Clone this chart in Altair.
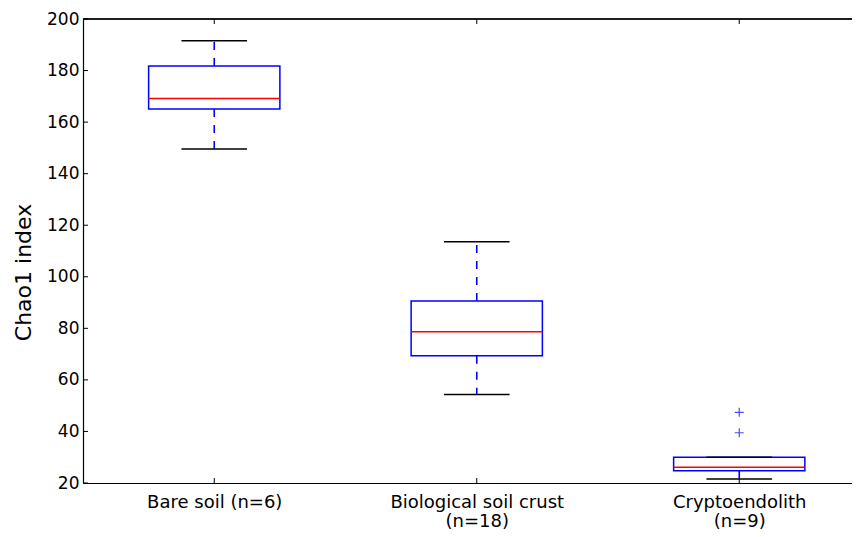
import json
import altair as alt
import pandas as pd

# ---- data ----
group_lines = [["Bare soil (n=6)"], ["Biological soil crust", "(n=18)"], ["Cryptoendolith", "(n=9)"]]
positions = [1, 2, 3]
whisker_low = [149.6, 54.3, 21.6]
q1 = [165.1, 69.4, 24.8]
median = [169.2, 78.7, 26.1]
q3 = [181.8, 90.6, 30.0]
whisker_high = [191.6, 113.6, 30.0]
outlier_pos = [3, 3]
outlier_values = [39.5, 47.4]
y_ticks = [20, 40, 60, 80, 100, 120, 140, 160, 180, 200]
y_title = "Chao1 index"

W, H = 769, 464
PX_PER_UNIT = 262.5
x_max = 0.5 + W / PX_PER_UNIT

xs = alt.Scale(domain=[0.5, x_max], nice=False, zero=False)
ys = alt.Scale(domain=[20, 200], nice=False, zero=False)

box_df = pd.DataFrame({
    "pos": positions,
    "wlo": whisker_low,
    "q1": q1,
    "med": median,
    "q3": q3,
    "whi": whisker_high,
})
out_df = pd.DataFrame({"pos": outlier_pos, "v": outlier_values})
ytick_df = pd.DataFrame({"v": y_ticks})

label_expr = json.dumps(group_lines) + "[datum.value - 1]"

base = alt.Chart(box_df).transform_calculate(
    lo="datum.pos - 0.25", hi="datum.pos + 0.25",
    clo="datum.pos - 0.125", chi="datum.pos + 0.125",
)

BLUE = "#0000ff"
DASH = [8, 8]


def X(field):
    return alt.X(field, scale=xs, title=None)


def Y(field):
    return alt.Y(field, scale=ys, title=y_title)


boxes = base.mark_rect(fillOpacity=0, stroke=BLUE, strokeWidth=1.5).encode(
    x=alt.X("lo:Q", scale=xs, title=None,
            axis=alt.Axis(values=positions, labelExpr=label_expr, tickSize=0,
                          labelPadding=10, labelLineHeight=19, labelBaseline="top",
                          grid=False, labelFlush=False, labelOverlap=False)),
    x2="hi:Q",
    y=alt.Y("q1:Q", scale=ys, title=y_title,
            axis=alt.Axis(values=y_ticks, tickSize=0, labelPadding=4, grid=False,
                          titleX=-53, titleY=253, titleAngle=270, titleAlign="center",
                          titleBaseline="alphabetic", titleFontSize=22,
                          titleFontWeight="normal", labelFlush=False)),
    y2="q3:Q",
)

whisk_up = base.mark_rule(color=BLUE, strokeDash=DASH, strokeWidth=1.6).encode(
    x=X("pos:Q"), y=Y("q3:Q"), y2="whi:Q",
)
whisk_dn = base.mark_rule(color=BLUE, strokeDash=DASH, strokeWidth=1.6).encode(
    x=X("pos:Q"), y=Y("q1:Q"), y2="wlo:Q",
)
cap_up = base.mark_rule(color="black", strokeWidth=1.5).encode(
    x=X("clo:Q"), x2="chi:Q", y=Y("whi:Q"),
)
cap_dn = base.mark_rule(color="black", strokeWidth=1.5).encode(
    x=X("clo:Q"), x2="chi:Q", y=Y("wlo:Q"),
)
med = base.mark_rule(color="#ff0000", strokeWidth=1.5).encode(
    x=X("lo:Q"), x2="hi:Q", y=Y("med:Q"),
)
outliers = alt.Chart(out_df).mark_point(
    shape="M-1,0H1M0,-1V1", size=81, filled=False, stroke=BLUE, strokeWidth=1.2
).encode(
    x=X("pos:Q"), y=Y("v:Q"),
)

# frame decorations: top border and inward ticks
top_border = alt.Chart(box_df).mark_rule(color="black", strokeWidth=1.2).encode(
    x=alt.datum(0.5, scale=xs), x2=alt.datum(x_max),
    y=alt.datum(200, scale=ys),
)
left_ticks = alt.Chart(ytick_df).mark_rule(color="black", strokeWidth=1).encode(
    y=Y("v:Q"), x=alt.value(0), x2=alt.value(5),
)
top_ticks = base.mark_rule(color="black", strokeWidth=1).encode(
    x=X("pos:Q"), y=alt.value(0), y2=alt.value(5),
)
bottom_ticks = base.mark_rule(color="black", strokeWidth=1).encode(
    x=X("pos:Q"), y=alt.value(H), y2=alt.value(H - 5),
)

chart = alt.layer(
    boxes, whisk_up, whisk_dn, cap_up, cap_dn, med, outliers,
    top_border, left_ticks, top_ticks, bottom_ticks,
).properties(
    width=W, height=H,
    autosize=alt.AutoSizeParams(type="none"),
    padding={"left": 75, "top": 11, "right": 0, "bottom": 46},
    background="white",
).configure_view(
    stroke=None
).configure_axis(
    domainColor="black", domainWidth=1.2, labelColor="black", titleColor="black",
    labelFont="DejaVu Sans", titleFont="DejaVu Sans", labelFontSize=17,
).configure_axisX(labelFontSize=18)

chart.save("out.html", embed_options={"renderer": "svg", "actions": False})
